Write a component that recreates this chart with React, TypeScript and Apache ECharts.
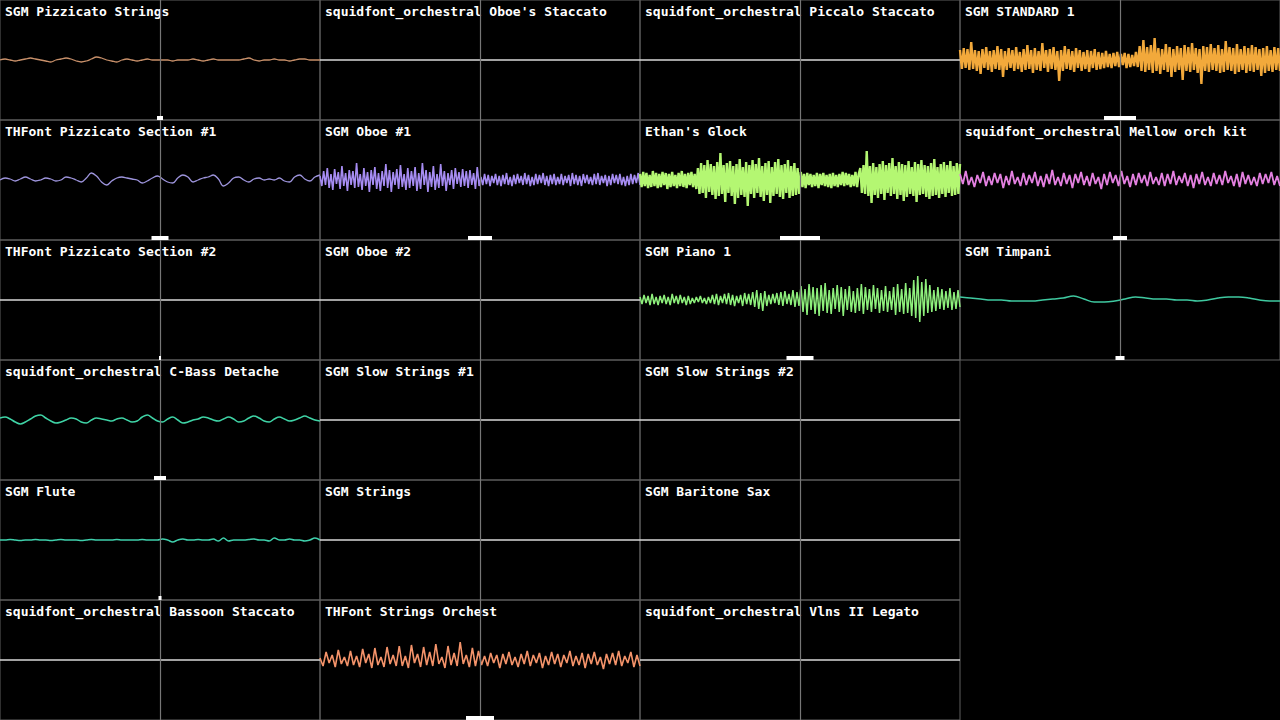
import React, { useEffect, useRef } from "react";
import * as echarts from "echarts";

// ---------- data ----------
const panelTitles = [
  "SGM Pizzicato Strings",
  "squidfont_orchestral Oboe's Staccato",
  "squidfont_orchestral Piccalo Staccato",
  "SGM STANDARD 1",
  "THFont Pizzicato Section #1",
  "SGM Oboe #1",
  "Ethan's Glock",
  "squidfont_orchestral Mellow orch kit",
  "THFont Pizzicato Section #2",
  "SGM Oboe #2",
  "SGM Piano 1",
  "SGM Timpani",
  "squidfont_orchestral C-Bass Detache",
  "SGM Slow Strings #1",
  "SGM Slow Strings #2",
  "SGM Flute",
  "SGM Strings",
  "SGM Baritone Sax",
  "squidfont_orchestral Bassoon Staccato",
  "THFont Strings Orchest",
  "squidfont_orchestral Vlns II Legato",
];

// width of the white level marker under each panel
const markWidths = [6, 0, 0, 32, 17, 24, 40, 14, 2, 0, 27, 9, 12, 0, 0, 3, 0, 0, 0, 28, 0];

const flatWave = [0, 0];

const pizzStringsWave = [
  0, 1, 0, -1, 0, 1, 2, 1, 0, -1, -2, 0, 1, 2, 1, -1, -2, -1, 1, 3, 2, 0, -1, -2, 0, 1, 0, -1, 0, 1, 0, 0,
  0, 0, -1, 0, 0, 0, 1, 0, -1, 0, 1, 0, 0, 0, 0, 0, 1, 2, 0, -1, 0, 0, 1, 0, 0, -1, 0, 1, 1, 0, 0, 0,
];

const standard1Wave = [
  10, -9, 12, -8, 11, -10, 18, -9, 10, -11, 9, -14, 11, -8, 13, -10, 9, -12, 10, -9, 14, -10, 11, -17, 9, -10, 12, -8, 10, -11, 13, -9, 8, -12, 11, -10, 15, -9, 10, -13,
  12, -10, 9, -11, 17, -8, 10, -12, 11, -9, 13, -10, 9, -21, 10, -11, 14, -9, 11, -10, 9, -12, 12, -8, 10, -11, 8, -9, 10, -12, 9, -8, 11, -10, 8, -9,
  7, -8, 9, -7, 6, -8, 7, -6, 8, -7, 6, -5, 7, -8, 6, -7, 5, -6, 8, -7,
  14, -11, 20, -12, 13, -10, 15, -13, 22, -11, 12, -14, 11, -10, 16, -12, 13, -17, 11, -12, 14, -10, 12, -20, 15, -11, 13, -12, 17, -10, 12, -13, 11, -24, 14, -11, 13, -12, 16, -10,
  12, -11, 15, -13, 11, -12, 19, -10, 13, -11, 12, -14, 16, -12, 11, -10, 14, -13, 12, -11, 15, -12, 13, -10, 11, -16, 12, -13, 14, -11, 10, -12, 13, -10, 12, -11,
];

const pizz1Wave = [
  0, 2, 1, -1, 1, 3, 1, -1, 0, 2, 1, -1, 0, 3, 2, 0, -2, 2, 7, 4, -2, -5, -1, 2, 3, 2, 1, 0, -3, -1, 2, 4,
  1, -2, -3, 2, 5, 3, -2, 0, 2, 3, 5, 1, -6, -3, 2, 3, 0, -2, 1, 2, 0, 1, 0, 2, -1, -2, 3, 5, 1, -1, 3, 5,
];

const oboe1Wave = [
  4, -6, 9, -5, 12, -8, 6, -10, 11, -4, 8, -9, 14, -6, 7, -11, 10, -5, 9, -8, 17, -7, 6, -10, 12, -6, 8, -12, 10, -5,
  13, -9, 7, -11, 9, -6, 16, -8, 10, -12, 8, -5, 11, -9, 15, -7, 6, -10, 12, -8, 9, -6, 13, -11, 7, -9, 17, -5, 10, -12,
  8, -7, 14, -10, 6, -8, 16, -6, 9, -11, 7, -5, 10, -9, 12, -4, 8, -7, 11, -6, 9, -8, 10, -5, 7, -9, 13, -6,
  3, -5, 6, -4, 5, -6, 4, -3, 6, -5, 4, -6, 5, -4, 7, -5, 3, -6, 5, -4, 6, -3, 4, -5, 7, -4, 5, -6, 3, -5,
  6, -4, 5, -3, 7, -5, 4, -6, 5, -4, 6, -5, 3, -4, 6, -5, 4, -3, 5, -6, 7, -4, 5, -5, 4, -6, 6, -3, 5, -4,
  3, -5, 6, -4, 7, -5, 4, -3, 5, -6, 4, -5, 6, -3, 5, -4, 6, -5, 3, -6, 4, -5, 6, -4, 5, -3, 7, -5,
];

const glockWave = [
  6, -7, 8, -6, 7, -8, 5, -7, 9, -6, 7, -8, 6, -7, 8, -5, 7, -9, 6, -7, 8, -6, 5, -8, 7, -6, 9, -7, 6, -8, 7, -5, 8, -7, 6, -9,
  12, -14, 17, -13, 15, -18, 20, -12, 16, -15, 14, -19, 18, -16, 27, -14, 15, -22, 17, -13, 19, -16, 14, -24, 16, -18, 21, -15, 13, -17, 18, -26,
  15, -14, 20, -18, 16, -13, 22, -17, 14, -21, 17, -15, 19, -23, 13, -16, 18, -14, 21, -17, 15, -19, 16, -13, 20, -18, 14, -16, 17, -15, 12, -14,
  8, -7, 6, -8, 7, -5, 6, -7, 5, -6, 7, -8, 6, -5, 7, -6, 5, -7, 6, -8, 7, -6, 5, -7, 6, -5, 8, -6, 7, -5, 6, -7, 5, -6, 8, -7, 6,
  12, -13, 15, -14, 29, -16, 14, -23, 17, -15, 13, -18, 16, -14, 19, -20, 15, -13, 17, -16, 22, -14, 14, -19, 18, -15, 16, -21, 15, -17,
  19, -14, 13, -16, 18, -22, 16, -15, 20, -14, 15, -17, 14, -19, 17, -16, 21, -15, 13, -18, 16, -14, 18, -17, 15, -13, 19, -16, 14, -15, 17, -14, 16,
];

const mellowWave = [
  6, -4, 9, -5, 3, -7, 5, -3, 8, -6, 4, -5, 7, -3, 6, -8, 4, -5, 9, -4, 3, -6, 7, -5, 5, -3, 8, -6, 4, -7,
  6, -4, 10, -5, 3, -6, 7, -4, 5, -8, 6, -3, 8, -5, 4, -6, 7, -4, 3, -9, 6, -5, 8, -3, 5, -6, 9, -4, 4, -7,
  6, -5, 7, -3, 5, -6, 8, -4, 3, -5, 7, -6, 6, -4, 9, -5, 4, -3, 7, -6, 5, -8, 6, -4, 8, -5, 3, -6, 7, -4,
  5, -5, 9, -3, 4, -6, 6, -7, 8, -4, 5, -5, 3, -6, 7, -4, 6, -3, 8, -5, 4, -6,
];

const pianoWave = [
  3, -4, 5, -3, 4, -5, 6, -4, 3, -5, 4, -3, 5, -4, 3, -5, 6, -3, 4, -4, 5, -3, 3, -5, 4, -4, 2, -3, 3, -2,
  4, -3, 2, -4, 3, -3, 5, -4, 6, -5, 4, -3, 6, -4, 7, -5, 5, -6, 4, -3, 5, -6, 7, -4, 6, -5, 8, -7, 10, -9,
  7, -11, 9, -6, 5, -4, 6, -3, 7, -5, 8, -6, 9, -4, 6, -5, 10, -7, 8, -6,
  14, -12, 11, -15, 16, -10, 13, -14, 12, -16, 15, -11, 17, -13, 10, -14, 12, -9, 15, -12, 13, -16, 11, -10, 14, -12, 9, -13, 12, -11,
  16, -14, 13, -10, 11, -12, 15, -9, 12, -13, 10, -11, 14, -12, 9, -10, 13, -15, 16, -12, 11, -14, 17, -13, 12, -16, 20, -18, 24, -22,
  18, -16, 21, -13, 15, -12, 10, -11, 13, -9, 11, -10, 9, -8, 12, -10, 8, -9, 10, -7,
];

const timpaniWave = [
  3, 2, 1, 0, 0, -1, -1, -1, 0, 1, 2, 4, 1, -2, -2, -1, 1, 3, 2, 1, 1, 0, 0, -1, 0, 2, 3, 3, 2, 0, -1, -1,
];

const cbassWave = [
  2, 3, 1, -2, -4, -2, 1, 4, 5, 2, -1, -3, -2, 0, 2, 1, -2, -3, 0, 2, 1, 0, -1, 1, 2, 0, -2, -1, 3, 5, 2, -1,
  -2, 1, 3, 0, -3, -2, 0, 1, 3, 2, 0, -1, 1, 3, 1, -2, -1, 2, 4, 2, -1, -2, 1, 3, 1, -1, 0, 2, 4, 2, 0, -1,
];

const fluteWave = [
  0, 0, 0.5, 0, -0.5, 0, 0, 0.5, 0, 0, -0.5, 0, 0.5, 0, 0, 0, -0.5, 0, 0.5, 0, 0, 0, 0, 0.5, 0, 0, 0, 0, 0.5, 0, 0, 0,
  1, 0, -2, 0, 1, 0, 0, 0.5, 0, 0, 1, -1, 2, -1, 0, 0, 0, 0.5, 1, 0, 0, -1, 2, 0, 0, 1, 0, 0, -1, 0, 2, 0,
];

const stringsOrchWave = [
  2, -6, 8, -3, 5, -7, 10, -4, 3, -6, 9, -5, 4, -7, 11, -3, 6, -8, 12, -5, 3, -7, 13, -4, 5, -6, 14, -6, 4, -8,
  15, -3, 6, -7, 13, -5, 8, -6, 16, -4, 3, -8, 14, -5, 7, -6, 18, -4, 5, -7, 12, -6, 9, -5,
  4, -6, 7, -3, 5, -8, 6, -4, 8, -5, 3, -7, 6, -4, 9, -6, 5, -3, 7, -8, 4, -5, 8, -4, 6, -7,
  5, -3, 9, -6, 4, -5, 7, -8, 6, -4, 8, -5, 3, -9, 6, -4, 7, -5, 9, -6, 4, -3, 8, -7, 5, -6,
];

const panelWaves = [
  pizzStringsWave, flatWave, flatWave, standard1Wave,
  pizz1Wave, oboe1Wave, glockWave, mellowWave,
  flatWave, flatWave, pianoWave, timpaniWave,
  cbassWave, flatWave, flatWave,
  fluteWave, flatWave, flatWave,
  flatWave, stringsOrchWave, flatWave,
];

// ---------- layout & style ----------
const panelSlots: [number, number][] = [
  [0, 0], [1, 0], [2, 0], [3, 0],
  [0, 1], [1, 1], [2, 1], [3, 1],
  [0, 2], [1, 2], [2, 2], [3, 2],
  [0, 3], [1, 3], [2, 3],
  [0, 4], [1, 4], [2, 4],
  [0, 5], [1, 5], [2, 5],
];
const FLAT = "#d9d9d9";
const panelColors = [
  "#c8906a", FLAT, FLAT, "#f2a93b",
  "#9d94dc", "#a68cf2", "#b4f772", "#e380e0",
  FLAT, FLAT, "#8ef07c", "#3fc9a0",
  "#3fd4a6", FLAT, FLAT,
  "#3fd0ac", FLAT, FLAT,
  FLAT, "#f4936a", FLAT,
];
const lineWidths = [
  1.3, 1.5, 1.5, 2.4,
  1.3, 1.6, 2.4, 1.8,
  1.5, 1.5, 1.5, 1.5,
  1.5, 1.5, 1.5,
  1.5, 1.5, 1.5,
  1.5, 1.6, 1.5,
];
const smoothPanels = [0, 4, 11, 12, 15];
const PW = 320;
const PH = 120;

export default function App() {
  const ref = useRef<HTMLDivElement>(null);

  useEffect(() => {
    document.body.style.margin = "0";
    document.body.style.background = "#000";
    const chart = echarts.init(ref.current!, null, { renderer: "svg" });

    const grids: any[] = [];
    const xAxes: any[] = [];
    const yAxes: any[] = [];
    const series: any[] = [];
    const titles: any[] = [];
    const graphics: any[] = [];

    panelSlots.forEach(([c, r], i) => {
      const left = c * PW;
      const top = r * PH;
      const wave = panelWaves[i];
      grids.push({
        left, top, width: PW, height: PH,
        show: true, borderColor: "#5e5e5e", borderWidth: 1, backgroundColor: "transparent",
      });
      xAxes.push({ type: "value", gridIndex: i, min: 0, max: wave.length - 1, show: false });
      yAxes.push({ type: "value", gridIndex: i, min: -60, max: 60, show: false });
      series.push({
        type: "line",
        xAxisIndex: i,
        yAxisIndex: i,
        data: wave.map((v, k) => [k, v]),
        showSymbol: false,
        smooth: smoothPanels.includes(i) ? 0.4 : false,
        lineStyle: { color: panelColors[i], width: lineWidths[i] },
        silent: true,
      });
      titles.push({
        text: panelTitles[i],
        left: left + 5,
        top: top + 5,
        padding: 0,
        textStyle: {
          color: "#ffffff",
          fontSize: 13,
          fontWeight: "bold",
          fontFamily: "DejaVu Sans Mono",
        },
      });
      graphics.push({
        type: "line",
        z: 100,
        silent: true,
        shape: { x1: left + PW / 2 + 0.5, y1: top, x2: left + PW / 2 + 0.5, y2: top + PH },
        style: { stroke: "#767676", lineWidth: 1.2 },
      });
      if (markWidths[i] > 0) {
        graphics.push({
          type: "rect",
          z: 101,
          silent: true,
          shape: { x: left + PW / 2 - markWidths[i] / 2, y: top + PH - 4, width: markWidths[i], height: 4 },
          style: { fill: "#ffffff" },
        });
      }
    });

    chart.setOption({
      animation: false,
      backgroundColor: "#000000",
      title: titles,
      grid: grids,
      xAxis: xAxes,
      yAxis: yAxes,
      series,
      graphic: graphics,
    });

    return () => chart.dispose();
  }, []);

  return (
    <div
      ref={ref}
      style={{ position: "absolute", left: 0, top: 0, width: 1280, height: 720, background: "#000" }}
    />
  );
}
